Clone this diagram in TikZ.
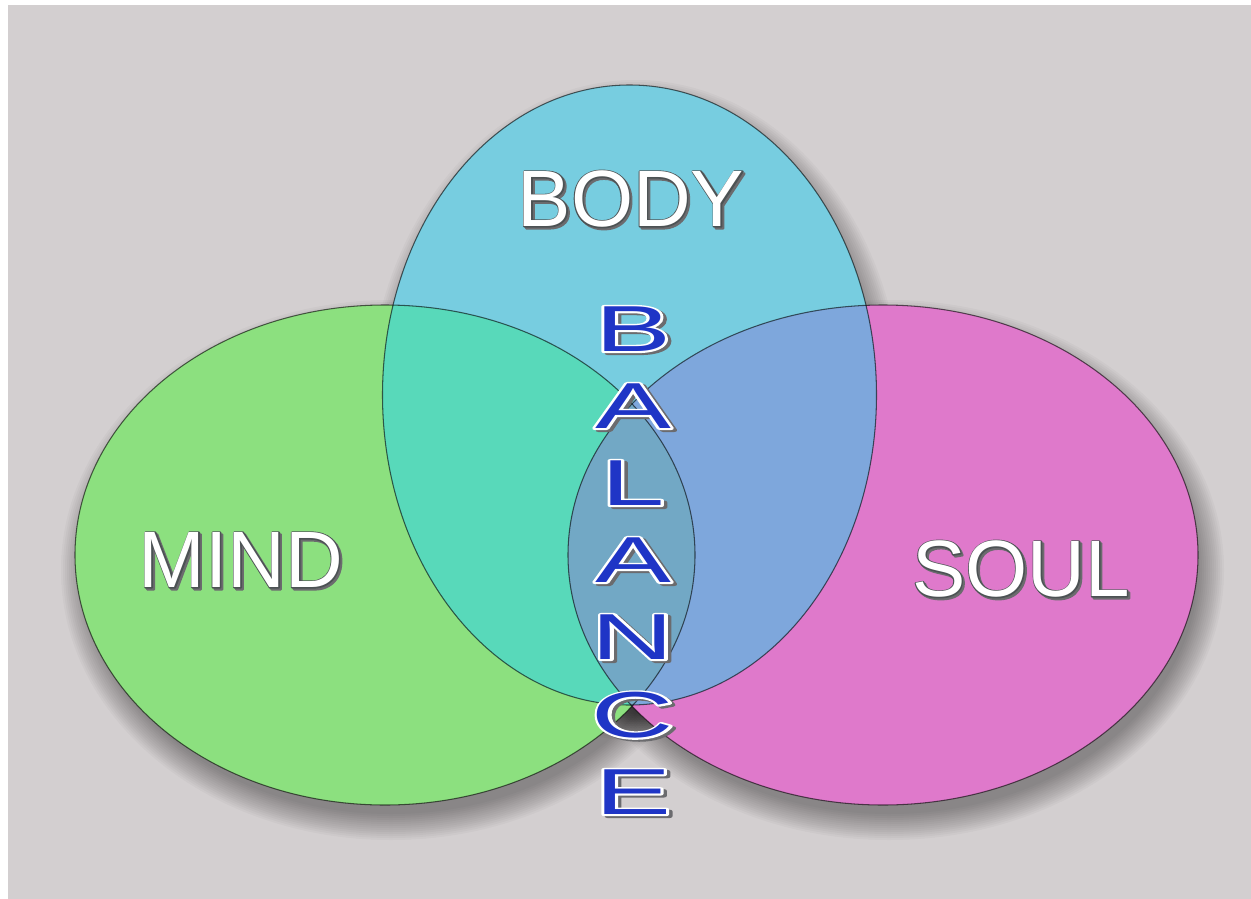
\documentclass[tikz,border=0pt]{standalone}
\usepackage{fontspec}
\setmainfont{Liberation Sans}
\usepackage{graphicx}
\definecolor{bgc}{HTML}{D3CFD0}
\definecolor{mindc}{HTML}{8CE07F}
\definecolor{soulc}{HTML}{DF79CB}
\definecolor{bodyc}{HTML}{77CDE0}
\definecolor{mbc}{HTML}{58D9BA}
\definecolor{bsc}{HTML}{7EA7DC}
\definecolor{allc}{HTML}{72A8C5}
\definecolor{balc}{HTML}{1F35C6}
\definecolor{shc}{HTML}{6A6A6C}
% #1 stroke colour (rgb numbers), #2 fill colour name, #3 stroke width (bp), #4 text
\newcommand\strokedtext[4]{{\color{#2}\special{pdf:literal direct #1 RG #3 w 1 j 2 Tr}#4\special{pdf:literal direct 0 Tr}}}
% outline behind, shadow behind, plain fill on top
\newcommand\outlined[6]{% #1 shadow rgb, #2 outline rgb, #3 outline colour name, #4 width, #5 fill colour, #6 text
  \rlap{\kern1.1pt\raisebox{-1.1pt}{\strokedtext{#1}{shc}{#4}{#6}}}%
  \rlap{\strokedtext{#2}{#3}{#4}{#6}}%
  \textcolor{#5}{#6}}
\tikzset{
  edge/.style={draw=black,draw opacity=0.6,line width=0.6pt},
  lbl/.style={inner sep=0pt,font=\fontsize{45.5pt}{50pt}\selectfont},
  bal/.style={inner sep=0pt,font=\fontsize{37pt}{40pt}\selectfont}
}
\newcommand\lbltext[1]{\outlined{0.42 0.42 0.43}{0.30 0.32 0.33}{black!70}{1.3}{white}{#1}}
\newcommand\baltext[1]{\scalebox{1.75}[1]{\outlined{0.42 0.42 0.43}{1 1 1}{white}{2.0}{balc}{#1}}}
\begin{document}
\begin{tikzpicture}[x=0.02cm,y=0.02cm]
\useasboundingbox (0,0) rectangle (1251,-899);
\fill[white] (0,0) rectangle (1251,-899);
\fill[bgc] (8,-5) rectangle (1251,-899);
% soft shadows
\foreach \cx/\cy/\rx/\ry in {385/555/310/250, 883/555/315/250, 629.5/395/247/310}{
  \foreach \i in {0,...,13}{
    \fill[black,opacity=0.028] (\cx+6,-\cy-15) ellipse [x radius=\rx+20-2*\i, y radius=\ry+20-2*\i];
  }}
\def\gre{(385,-555) ellipse [x radius=310, y radius=250]}
\def\pin{(883,-555) ellipse [x radius=315, y radius=250]}
\def\cya{(629.5,-395) ellipse [x radius=247, y radius=310]}
\fill[mindc] \gre;
\fill[soulc] \pin;
\fill[bodyc] \cya;
\begin{scope}\clip \gre; \fill[mbc] \cya;\end{scope}
\begin{scope}\clip \cya; \fill[bsc] \pin;\end{scope}
\begin{scope}\clip \gre; \fill[allc] \pin;\end{scope}
\draw[edge] \gre;
\draw[edge] \pin;
\draw[edge] \cya;
% labels
\node[lbl] (body) at (631,-200) {\lbltext{BODY}};
\node[lbl] (mind) at (241,-561) {\lbltext{MIND}};
\node[lbl] (soul) at (1021,-570) {\lbltext{SOUL}};
% BALANCE
\node[bal] (b1) at (633,-330) {\baltext{B}};
\node[bal] (b2) at (633,-407) {\baltext{A}};
\node[bal] (b3) at (633,-484) {\baltext{L}};
\node[bal] (b4) at (633,-561) {\baltext{A}};
\node[bal] (b5) at (633,-638) {\baltext{N}};
\node[bal] (b6) at (633,-716) {\baltext{C}};
\node[bal] (b7) at (633,-793) {\baltext{E}};
\end{tikzpicture}
\end{document}
